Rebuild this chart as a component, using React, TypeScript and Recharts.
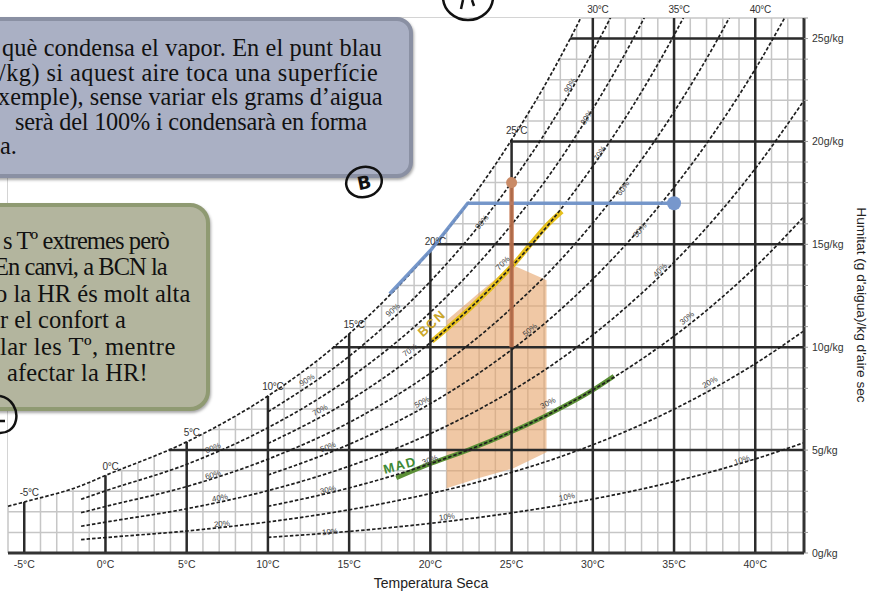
import React from "react";
import {
  ComposedChart, XAxis, YAxis, CartesianGrid, Line, Area, Scatter,
} from "recharts";

// dry-bulb temperatures (°C) at which the RH curves were read
const rhTemps = [-6, -5, -1.5, 0, 5, 10, 15, 20, 22.5, 25, 27.5, 30, 32.5, 35, 37.5, 40, 43];

// humidity ratio (g/kg) of each RH curve, null where the curve is not drawn
const rh100 = [2.27, 2.48, 3.27, 3.77, 5.4, 7.63, 10.65, 14.7, 17.2, 20.08, 23.37, 27.2, 31.57, null, null, null, null];
const rh90 = [null, null, null, null, null, 6.86, 9.56, 13.2, 15.43, 18.01, 20.95, 24.38, 28.27, 32.73, null, null, null];
const rh80 = [null, null, 2.61, 3.02, 4.31, 6.09, 8.49, 11.7, 13.68, 15.96, 18.56, 21.58, 25.01, 28.92, null, null, null];
const rh70 = [null, null, null, null, null, 5.32, 7.41, 10.22, 11.94, 13.92, 16.18, 18.8, 21.77, 25.16, 29.02, null, null];
const rh60 = [null, null, 1.96, 2.26, 3.23, 4.56, 6.34, 8.74, 10.21, 11.9, 13.81, 16.04, 18.57, 21.44, 24.71, 28.44, null];
const rh50 = [null, null, null, null, null, 3.79, 5.28, 7.26, 8.48, 9.88, 11.47, 13.31, 15.4, 17.77, 20.46, 23.52, 27.73];
const rh40 = [null, null, 1.3, 1.5, 2.15, 3.03, 4.22, 5.8, 6.77, 7.88, 9.14, 10.6, 12.26, 14.13, 16.26, 18.68, 21.99];
const rh30 = [null, null, null, null, null, 2.27, 3.16, 4.34, 5.06, 5.89, 6.83, 7.92, 9.15, 10.54, 12.12, 13.9, 16.35];
const rh20 = [null, null, 0.65, 0.75, 1.07, 1.51, 2.1, 2.89, 3.36, 3.92, 4.54, 5.26, 6.07, 6.99, 8.03, 9.2, 10.8];
const rh10 = [null, null, null, null, null, 0.76, 1.05, 1.44, 1.68, 1.95, 2.26, 2.62, 3.02, 3.47, 3.99, 4.57, 5.36];

// isotherms (thick black) and where they stop on the saturation curve
const isoTemps = [-5, 0, 5, 10, 15, 20, 25, 30, 35, 40];
const isoTop = [2.48, 3.77, 5.4, 7.63, 10.65, 14.7, 20.08, 26, 26, 26];

// humidity lines (thick black) and their dew point
const humLevels = [5, 10, 15, 20, 25];
const dewPoints = [3.9, 14.0, 20.2, 24.9, 28.6];

// comfort zone
const comfortT = [21, 23, 25.05, 26.9, 27.15];
const comfortLow = [3.15, 3.64, 4.1, 4.8, 4.9];
const comfortHigh = [11.3, 12.65, 14.0, 13.35, 13.25];

// climate lines
const bcnT = [20.1, 22.5, 25, 27.5, 28.1];
const bcnW = [10.3, 11.94, 13.92, 16.18, 16.6];
const madT = [17.9, 20, 22.5, 25, 27.5, 30, 31.3];
const madW = [3.65, 4.34, 5.06, 5.89, 6.83, 7.92, 8.6];

// condensation example (blue) and heating example (brown)
const blueT = [17.5, 20, 22.3, 35];
const blueW = [12.6, 14.7, 17.0, 17.0];
const brownT = [25, 25];
const brownW = [10, 18];

// RH labels on the curves
const rhLabT = [6.62, 6.62, 7.05, 7.17, 12.41, 13.21, 13.7, 13.7, 13.82, 17.7, 18.75, 19.49, 19.98, 21.02, 24.47, 26.13, 27.24, 28.41, 23.18, 28.6, 29.64, 30.44, 31.86, 32.9, 34.14, 35.8, 37.21, 39.18];
const rhLabW = [5.1, 3.79, 2.67, 1.41, 8.4, 6.94, 5.15, 3.06, 1.02, 11.8, 9.85, 7.33, 4.51, 1.75, 14.08, 10.83, 7.28, 2.72, 16.07, 22.72, 21.17, 19.42, 17.72, 15.68, 13.74, 11.41, 8.3, 4.51];
const rhLabText = ["80%", "60%", "40%", "20%", "90%", "70%", "50%", "30%", "10%", "90%", "70%", "50%", "30%", "10%", "70%", "50%", "30%", "10%", "90%", "90%", "80%", "70%", "60%", "50%", "40%", "30%", "20%", "10%"];
const rhLabAngle = [-21, -16, -11, -5, -32, -28, -22, -13, -5, -41, -35, -28, -20, -7, -45, -40, -28, -11, -50, -58, -57, -55, -53, -50, -45, -40, -30, -17];

const xTicks = Array.from({ length: 50 }, (_, i) => i - 6);
const yTicks = Array.from({ length: 27 }, (_, i) => i);

const toPts = (ts: number[], ws: (number | null)[]) =>
  ts.map((t, i) => ({ t, w: ws[i] })).filter((p) => p.w !== null);

const rhCurves = [rh100, rh90, rh80, rh70, rh60, rh50, rh40, rh30, rh20, rh10];

const coverData = toPts(rhTemps, rh100).map((p) => ({ t: p.t, band: [p.w, 26] }));
const comfortData = comfortT.map((t, i) => ({ t, band: [comfortLow[i], comfortHigh[i]] }));
const isoLabels = isoTemps.map((t, i) => ({ t, w: isoTop[i], text: `${t}°C` }));
const rhLabels = rhLabT.map((t, i) => ({ t, w: rhLabW[i], text: rhLabText[i], angle: rhLabAngle[i] }));
const cityLabels = [
  { t: 20.09, w: 11.17, text: "BCN", angle: -42, color: "#c9a62a" },
  { t: 18.13, w: 4.27, text: "MAD", angle: -15, color: "#3f8a36" },
];

const sans = "'Liberation Sans', Arial, sans-serif";
const serif = "'Liberation Serif', 'Times New Roman', serif";

const RhLabel = (p: any) => (
  <text x={p.cx} y={p.cy} transform={`rotate(${p.payload.angle} ${p.cx} ${p.cy})`}
    textAnchor="middle" dominantBaseline="central" fontSize={8} fill="#444" fontFamily={sans}>
    {p.payload.text}
  </text>
);

const IsoLabel = (p: any) => (
  <text x={p.cx + 5} y={p.cy - 9} textAnchor="middle" dominantBaseline="central"
    fontSize={10} fill="#333" fontFamily={sans} letterSpacing={-0.3}>
    {p.payload.text}
  </text>
);

const CityLabel = (p: any) => (
  <text x={p.cx} y={p.cy} transform={`rotate(${p.payload.angle} ${p.cx} ${p.cy})`}
    textAnchor="middle" dominantBaseline="central" fontSize={13} fontWeight="bold"
    letterSpacing={1.5} fill={p.payload.color} fontFamily={sans}>
    {p.payload.text}
  </text>
);

const dash = { stroke: "#1e1e1e", strokeWidth: 1.7, strokeDasharray: "3.5 2" };
const solid = { stroke: "#2b2b2b", strokeWidth: 2.5 };

const bubble1 = [
  { text: "què condensa el vapor. En el punt blau", left: 2, ls: 0.12 },
  { text: "/kg) si aquest aire toca una superfície", left: -1, ls: 0.45 },
  { text: "xemple), sense variar els grams d’aigua", left: -2, ls: 0 },
  { text: "serà del 100% i condensarà en forma", left: 15, ls: -0.2 },
  { text: "a.", left: 0, ls: 0 },
];
const bubble2 = [
  { text: "s Tº extremes però", left: 3, ls: -0.9 },
  { text: "En canvi, a BCN la", left: -6, ls: -0.95 },
  { text: "o la HR és molt alta", left: -5, ls: 0 },
  { text: "r el confort a", left: 0, ls: 0 },
  { text: "lar les Tº, mentre", left: 0, ls: 0.45 },
  { text: "afectar la HR!", left: 7, ls: 0.15 },
];

export default function App() {
  return (
    <div style={{ position: "fixed", left: 0, top: 0, width: 881, height: 597, overflow: "hidden", background: "#fff" }}>
      <ComposedChart width={881} height={597} margin={{ top: 18, right: 17, bottom: 14, left: 8 }}>
        <CartesianGrid stroke="#c6c6c6" strokeWidth={1.5} />
        <XAxis
          dataKey="t" type="number" domain={[-6, 43]} ticks={xTicks} interval={0}
          height={30} tickLine={false}
          axisLine={{ stroke: "#333", strokeWidth: 3 }}
          tick={{ fontSize: 10.5, fill: "#333", fontFamily: sans }}
          tickFormatter={(v: number) => (v % 5 === 0 && v > -6 && v < 43 ? `${v}°C` : "")}
        />
        <YAxis
          orientation="right" type="number" domain={[0, 26]} allowDataOverflow
          ticks={yTicks} interval={0} width={60} tickSize={4} tickMargin={4}
          tickLine={{ stroke: "#999" }}
          axisLine={{ stroke: "#333", strokeWidth: 3 }}
          tick={{ fontSize: 10.5, fill: "#333", fontFamily: sans }}
          tickFormatter={(v: number) => (v % 5 === 0 ? `${v}g/kg` : "")}
        />
        <YAxis yAxisId="lab" hide type="number" domain={[0, 26]} />

        {/* hide the grid above the saturation curve */}
        <Area data={coverData} dataKey="band" type="monotone" stroke="none" fill="#fff" fillOpacity={1}
          dot={false} activeDot={false} isAnimationActive={false} />
        <Area data={comfortData} dataKey="band" type="linear" stroke="none" fill="#e6a369" fillOpacity={0.6}
          dot={false} activeDot={false} isAnimationActive={false} />

        <Line data={toPts(bcnT, bcnW)} dataKey="w" type="monotone" stroke="#e6c01c" strokeWidth={5}
          dot={false} activeDot={false} isAnimationActive={false} />
        <Line data={toPts(madT, madW)} dataKey="w" type="monotone" stroke="#5b8f36" strokeWidth={4.5}
          dot={false} activeDot={false} isAnimationActive={false} />

        {isoTemps.map((t, i) => (
          <Line key={`iso${t}`} data={[{ t, w: 0 }, { t, w: isoTop[i] }]} dataKey="w" type="linear" {...solid}
            dot={false} activeDot={false} isAnimationActive={false} />
        ))}
        {humLevels.map((w, i) => (
          <Line key={`hum${w}`} data={[{ t: dewPoints[i], w }, { t: 43, w }]} dataKey="w" type="linear" {...solid}
            dot={false} activeDot={false} isAnimationActive={false} />
        ))}

        {rhCurves.map((vals, i) => (
          <Line key={`rh${i}`} data={toPts(rhTemps, vals)} dataKey="w" type="monotone" {...dash}
            dot={false} activeDot={false} isAnimationActive={false} />
        ))}

        <Line data={toPts(blueT, blueW)} dataKey="w" type="linear" stroke="#7092c8" strokeWidth={3.5}
          strokeOpacity={0.95} dot={false} activeDot={false} isAnimationActive={false} />
        <Line data={toPts(brownT, brownW)} dataKey="w" type="linear" stroke="#c5764f" strokeWidth={4.5}
          strokeOpacity={0.85} dot={false} activeDot={false} isAnimationActive={false} />

        <Scatter data={[{ t: 35, w: 17 }]} dataKey="w" isAnimationActive={false}
          shape={(p: any) => <circle cx={p.cx} cy={p.cy} r={7} fill="#7797cc" />} />
        <Scatter data={[{ t: 25, w: 18 }]} dataKey="w" isAnimationActive={false}
          shape={(p: any) => <circle cx={p.cx} cy={p.cy} r={5.5} fill="#c98a66" />} />

        <Scatter data={rhLabels} dataKey="w" yAxisId="lab" isAnimationActive={false} shape={RhLabel} />
        <Scatter data={isoLabels} dataKey="w" yAxisId="lab" isAnimationActive={false} shape={IsoLabel} />
        <Scatter data={cityLabels} dataKey="w" yAxisId="lab" isAnimationActive={false} shape={CityLabel} />
      </ComposedChart>

      <svg width={881} height={597} style={{ position: "absolute", left: 0, top: 0, pointerEvents: "none" }}>
        <text x={431} y={588} textAnchor="middle" fontSize={14} fill="#222" fontFamily={sans}>Temperatura Seca</text>
        <text transform="translate(857,305) rotate(90)" textAnchor="middle" fontSize={13.7} fill="#222" fontFamily={sans}>
          Humitat (g d'aigua)/kg d'aire sec
        </text>
      </svg>

      <div style={{
        position: "absolute", left: -30, top: 17, width: 443, height: 161, boxSizing: "border-box",
        background: "#aab0c4", border: "4px solid #8a90a3", borderRadius: 16,
        boxShadow: "1px 2px 3px rgba(0,0,0,0.35)",
      }} />
      <div style={{ position: "absolute", left: 0, top: 36.3, fontFamily: serif, fontSize: 24.3, lineHeight: "24.5px", color: "#111", whiteSpace: "pre" }}>
        {bubble1.map((l, i) => (
          <div key={i} style={{ marginLeft: l.left, letterSpacing: l.ls }}>{l.text}</div>
        ))}
      </div>

      <div style={{
        position: "absolute", left: -30, top: 203, width: 240, height: 208, boxSizing: "border-box",
        background: "#b3b59e", border: "4px solid #8f9a72", borderRadius: 20,
        boxShadow: "1px 2px 3px rgba(0,0,0,0.35)",
      }} />
      <div style={{ position: "absolute", left: 0, top: 227.8, fontFamily: serif, fontSize: 24.5, lineHeight: "26.5px", color: "#111", whiteSpace: "pre" }}>
        {bubble2.map((l, i) => (
          <div key={i} style={{ marginLeft: l.left, letterSpacing: l.ls }}>{l.text}</div>
        ))}
      </div>

      <svg width={881} height={597} style={{ position: "absolute", left: 0, top: 0, pointerEvents: "none" }}>
        <ellipse cx={468} cy={-3} rx={25} ry={23} fill="none" stroke="#111" strokeWidth={2.5} />
        <path d="M463,0 L461,9 M472,0 L474,6" stroke="#111" strokeWidth={2.5} fill="none" />
        <ellipse cx={364} cy={182} rx={18} ry={15} fill="none" stroke="#111" strokeWidth={2.5} transform="rotate(-15 364 182)" />
        <text x={364} y={189} textAnchor="middle" fontSize={18} fontWeight="bold" fill="#111"
          fontFamily="'DejaVu Sans', sans-serif" transform="rotate(-12 364 182)">B</text>
        <path d="M0,396 C12,398 18,410 16,420 C14,430 6,433 0,433 M0,421 L5,421" stroke="#111" strokeWidth={2.5} fill="none" />
      </svg>
    </div>
  );
}
